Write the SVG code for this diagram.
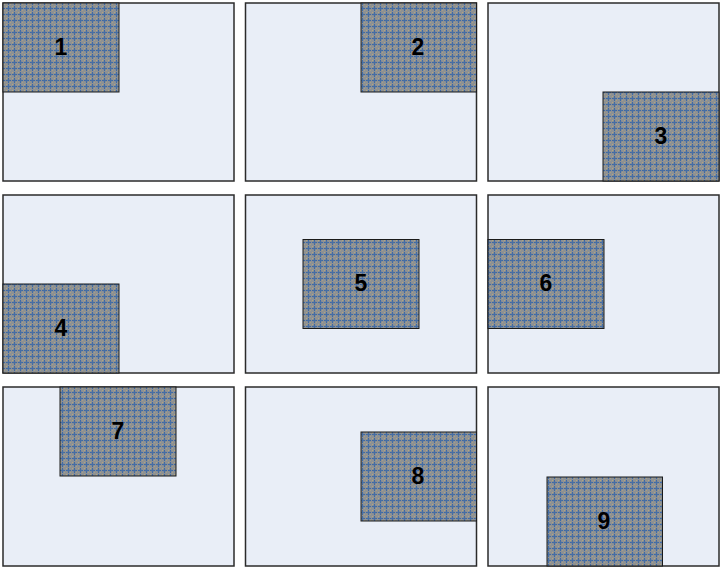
<svg xmlns="http://www.w3.org/2000/svg" width="720" height="567" viewBox="0 0 720 567">
<defs>
<pattern id="pat" width="6" height="6" patternUnits="userSpaceOnUse">
<rect width="6" height="6" fill="#8d9194"/>
<rect x="0" y="0" width="1" height="1" fill="#b5a77c"/>
<rect x="4" y="4" width="1" height="1" fill="#a99f84"/>
<rect x="0" y="2" width="5" height="1" fill="#3d69a6"/>
<rect x="2" y="0" width="1" height="5" fill="#3d69a6"/>
<rect x="1" y="1" width="3" height="3" fill="#56779f" opacity="0.35"/>
</pattern>
<style>
.frame{fill:#e9eef7;stroke:#2b2b2b;stroke-width:1.5}
.box{fill:url(#pat);stroke:#1a1a1a;stroke-width:1}
.lbl{font-family:"Liberation Sans",Arial,sans-serif;font-weight:bold;font-size:23px;fill:#000;text-anchor:middle;dominant-baseline:central}
</style>
</defs>
<g id="frame1"><rect class="frame" x="3" y="3" width="231" height="178"/><rect class="box" x="3" y="3" width="116" height="89"/><text class="lbl" x="61" y="47">1</text></g>
<g id="frame2"><rect class="frame" x="245.5" y="3" width="231" height="178"/><rect class="box" x="361" y="3" width="115.5" height="89"/><text class="lbl" x="418" y="47">2</text></g>
<g id="frame3"><rect class="frame" x="488" y="3" width="231" height="178"/><rect class="box" x="603" y="92" width="116" height="89"/><text class="lbl" x="661" y="136">3</text></g>
<g id="frame4"><rect class="frame" x="3" y="195" width="231" height="178"/><rect class="box" x="3" y="284" width="116" height="89"/><text class="lbl" x="61" y="328">4</text></g>
<g id="frame5"><rect class="frame" x="245.5" y="195" width="231" height="178"/><rect class="box" x="303" y="239.5" width="116" height="89"/><text class="lbl" x="361" y="283">5</text></g>
<g id="frame6"><rect class="frame" x="488" y="195" width="231" height="178"/><rect class="box" x="488" y="239.5" width="116" height="89"/><text class="lbl" x="546" y="283">6</text></g>
<g id="frame7"><rect class="frame" x="3" y="387" width="231" height="179"/><rect class="box" x="60" y="387" width="116" height="89"/><text class="lbl" x="118" y="431">7</text></g>
<g id="frame8"><rect class="frame" x="245.5" y="387" width="231" height="179"/><rect class="box" x="361" y="432" width="115.5" height="89"/><text class="lbl" x="418" y="476">8</text></g>
<g id="frame9"><rect class="frame" x="488" y="387" width="231" height="179"/><rect class="box" x="547" y="477" width="115.5" height="89"/><text class="lbl" x="604" y="521">9</text></g>
<g id="connectors"/>
</svg>
